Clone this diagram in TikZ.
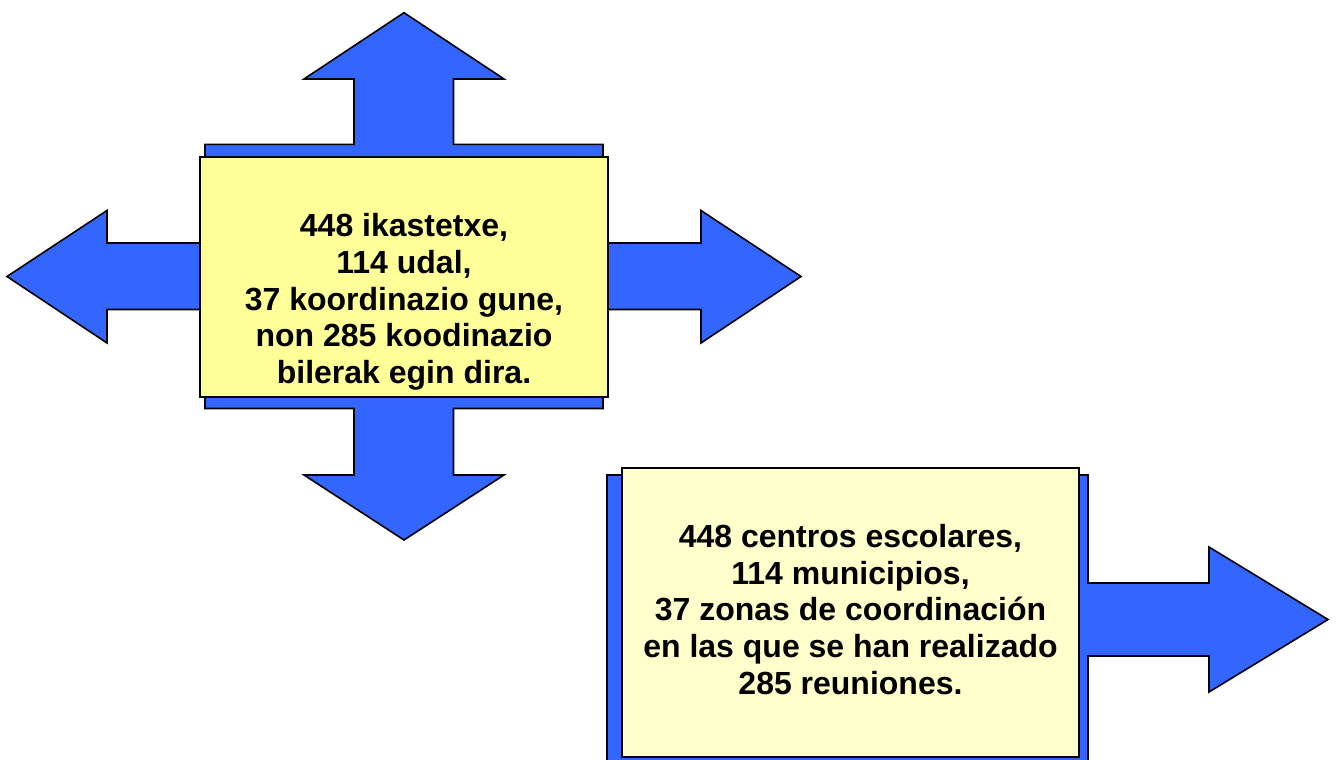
\documentclass[tikz,border=0pt]{standalone}
\usepackage{fontspec}
\setmainfont{Liberation Sans}
\definecolor{arrowblue}{HTML}{3366FF}
\definecolor{boxyellow}{HTML}{FFFF99}
\definecolor{boxcream}{HTML}{FFFFCC}
\tikzset{
  calloutshape/.style={fill=arrowblue, draw=black, line width=1.2pt, line join=miter},
  yellowbox/.style={draw=black, line width=1.2pt, inner sep=0pt, rectangle},
  boxtext/.style={align=center, inner sep=0pt, text=black,
    font=\fontsize{24pt}{27.45pt}\selectfont\bfseries}
}
\begin{document}
\begin{tikzpicture}[x=0.75pt, y=-0.75pt]
\path[use as bounding box] (0,0) rectangle (1339,760);
\clip (0,0) rectangle (1339,760);

% quad arrow callout
\draw[calloutshape]
  (404,12.7) -- (504,79) -- (453.5,79) -- (453.5,144.3) -- (603,144.3) -- (603,243)
  -- (701,243) -- (701,210.5) -- (801,276.5) -- (701,343) -- (701,309.5)
  -- (603,309.5) -- (603,408.5) -- (453.5,408.5) -- (453.5,475) -- (504,475)
  -- (404,540) -- (304,475) -- (354,475) -- (354,408.5) -- (205,408.5)
  -- (205,309.5) -- (107,309.5) -- (107,343) -- (7,276.5) -- (107,210.5)
  -- (107,243) -- (205,243) -- (205,144.3) -- (354,144.3) -- (354,79)
  -- (304,79) -- cycle;

% right arrow callout
\draw[calloutshape]
  (607,475) -- (1088,475) -- (1088,583) -- (1209,583) -- (1209,547)
  -- (1328,619.5) -- (1209,692) -- (1209,656) -- (1088,656) -- (1088,768)
  -- (607,768) -- cycle;

% yellow boxes
\node[yellowbox, fill=boxyellow, minimum width=306pt, minimum height=180pt] (box1) at (404,276.7) {};
\node[yellowbox, fill=boxcream, minimum width=342.75pt, minimum height=216.75pt] (box2) at (850.5,612.5) {};

% texts
\node[boxtext] (text1) at (404,301.8) {448 ikastetxe,\\114 udal,\\37 koordinazio gune,\\non 285 koodinazio\\bilerak egin dira.};
\node[boxtext] (text2) at (850.5,609.5) {448 centros escolares,\\114 municipios,\\37 zonas de coordinación\\en las que se han realizado\\285 reuniones.};
\end{tikzpicture}
\end{document}
